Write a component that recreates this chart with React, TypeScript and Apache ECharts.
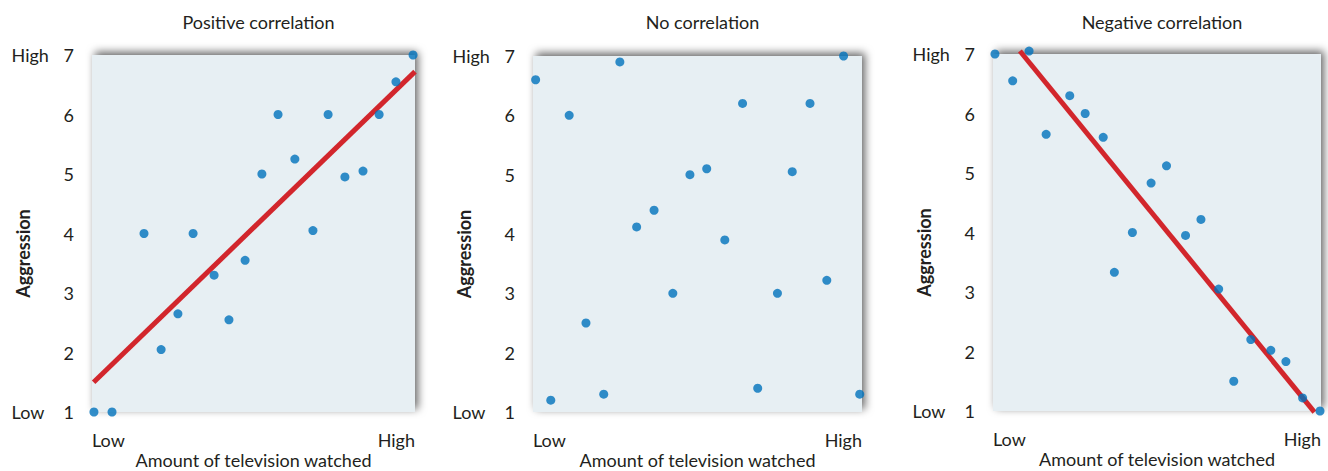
import React, { useEffect, useRef } from "react";
import * as echarts from "echarts";

const panelTitles = ["Positive correlation", "No correlation", "Negative correlation"];
const xAxisName = "Amount of television watched";
const yAxisName = "Aggression";
const xTickLabels = ["Low", "High"];
const yHighLabel = "High";
const yLowLabel = "Low";

const positivePoints: [number, number][] = [
  [0.06, 1.0], [0.62, 1.0], [1.61, 4.0], [2.14, 2.05], [2.66, 2.65],
  [3.13, 4.0], [3.78, 3.3], [4.24, 2.55], [4.74, 3.55], [5.26, 5.0],
  [5.76, 6.0], [6.28, 5.25], [6.84, 4.05], [7.31, 6.0], [7.83, 4.95],
  [8.39, 5.05], [8.89, 6.0], [9.41, 6.55], [9.94, 7.0],
];
const positiveLine: [number, number][] = [[0.05, 1.5], [10, 6.72]];

const nonePoints: [number, number][] = [
  [0.08, 6.6], [0.54, 1.2], [1.1, 6.0], [1.61, 2.5], [2.15, 1.3],
  [2.64, 6.9], [3.15, 4.12], [3.68, 4.4], [4.25, 3.0], [4.77, 5.0],
  [5.28, 5.1], [5.83, 3.9], [6.37, 6.2], [6.83, 1.4], [7.43, 3.0],
  [7.88, 5.05], [8.42, 6.2], [8.93, 3.22], [9.44, 7.0], [9.93, 1.3],
];

const negativePoints: [number, number][] = [
  [0.06, 7.0], [0.6, 6.55], [1.1, 7.05], [1.62, 5.65], [2.34, 6.3],
  [2.81, 6.0], [3.36, 5.6], [3.7, 3.33], [4.25, 4.0], [4.82, 4.83],
  [5.29, 5.12], [5.87, 3.95], [6.34, 4.22], [6.88, 3.05], [7.34, 1.5],
  [7.86, 2.2], [8.47, 2.02], [8.93, 1.83], [9.44, 1.22], [9.97, 1.0],
];
const negativeLine: [number, number][] = [[0.82, 7.05], [9.8, 0.98]];

const FONT = "Lato";
const TEXT = "#231f20";
const BG = "#e7eff3";
const DOT = "#0072bc";
const RED = "#d2262c";

const grids = [
  { left: 92, top: 55, width: 323, height: 357 },
  { left: 533, top: 56, width: 329, height: 356 },
  { left: 993, top: 54, width: 328, height: 357 },
];

export default function App() {
  const ref = useRef<HTMLDivElement>(null);
  useEffect(() => {
    if (!ref.current) return;
    const chart = echarts.init(ref.current, null, { renderer: "svg" });
    const pointSets = [positivePoints, nonePoints, negativePoints];
    const lines: ([number, number][] | null)[] = [positiveLine, null, negativeLine];

    const series: any[] = [];
    pointSets.forEach((pts, i) => {
      const ln = lines[i];
      if (ln) {
        series.push({
          type: "line",
          xAxisIndex: i,
          yAxisIndex: i,
          data: ln,
          symbol: "none",
          clip: false,
          lineStyle: { color: RED, width: 5 },
          z: 2,
        });
      }
      series.push({
        type: "scatter",
        xAxisIndex: i,
        yAxisIndex: i,
        data: pts,
        symbolSize: 9,
        itemStyle: { color: DOT },
        clip: false,
        z: 3,
      });
    });

    chart.setOption({
      animation: false,
      title: grids.map((g, i) => ({
        text: panelTitles[i],
        left: g.left + g.width / 2,
        top: 8,
        textAlign: "center",
        textStyle: { fontFamily: FONT, fontSize: 18, fontWeight: "normal", color: TEXT },
      })),
      grid: grids.map((g) => ({
        ...g,
        outerBoundsMode: "none",
        containLabel: false,
        show: true,
        backgroundColor: BG,
        borderWidth: 0,
        shadowBlur: 8,
        shadowColor: "rgba(0,0,0,0.6)",
        shadowOffsetX: 3,
        shadowOffsetY: -3,
      })),
      xAxis: grids.map((_, i) => ({
        type: "value",
        gridIndex: i,
        min: 0,
        max: 10,
        interval: 10,
        name: xAxisName,
        nameLocation: "middle",
        nameGap: 39,
        nameMoveOverlap: false,
        nameTextStyle: { fontFamily: FONT, fontSize: 18, color: TEXT },
        axisLine: { show: false },
        axisTick: { show: false },
        splitLine: { show: false },
        axisLabel: {
          margin: 19,
          fontFamily: FONT,
          fontSize: 18,
          color: TEXT,
          alignMinLabel: "left",
          alignMaxLabel: "right",
          formatter: (v: number) => (v === 0 ? xTickLabels[0] : xTickLabels[1]),
        },
      })),
      yAxis: grids.map((_, i) => ({
        type: "value",
        gridIndex: i,
        min: 1,
        max: 7,
        interval: 1,
        name: yAxisName,
        nameLocation: "middle",
        nameGap: 60,
        nameMoveOverlap: false,
        nameTextStyle: {
          fontFamily: FONT,
          fontSize: 18,
          fontWeight: "bold",
          color: TEXT,
          padding: [0, 40, 0, 0],
        },
        axisLine: { show: false },
        axisTick: { show: false },
        splitLine: { show: false },
        axisLabel: {
          margin: 18,
          fontFamily: FONT,
          fontSize: 18,
          color: TEXT,
          formatter: (v: number) =>
            v === 7 ? `{t|${yHighLabel}}{n|${v}}` : v === 1 ? `{t|${yLowLabel}}{n|${v}}` : `{n|${v}}`,
          rich: {
            t: { width: 52, align: "left", fontFamily: FONT, fontSize: 18, color: TEXT },
            n: { fontFamily: FONT, fontSize: 18, color: TEXT },
          },
        },
      })),
      series,
    });
    return () => chart.dispose();
  }, []);
  return (
    <div
      ref={ref}
      style={{ position: "absolute", left: 0, top: 0, width: 1328, height: 471, background: "#fff" }}
    />
  );
}
